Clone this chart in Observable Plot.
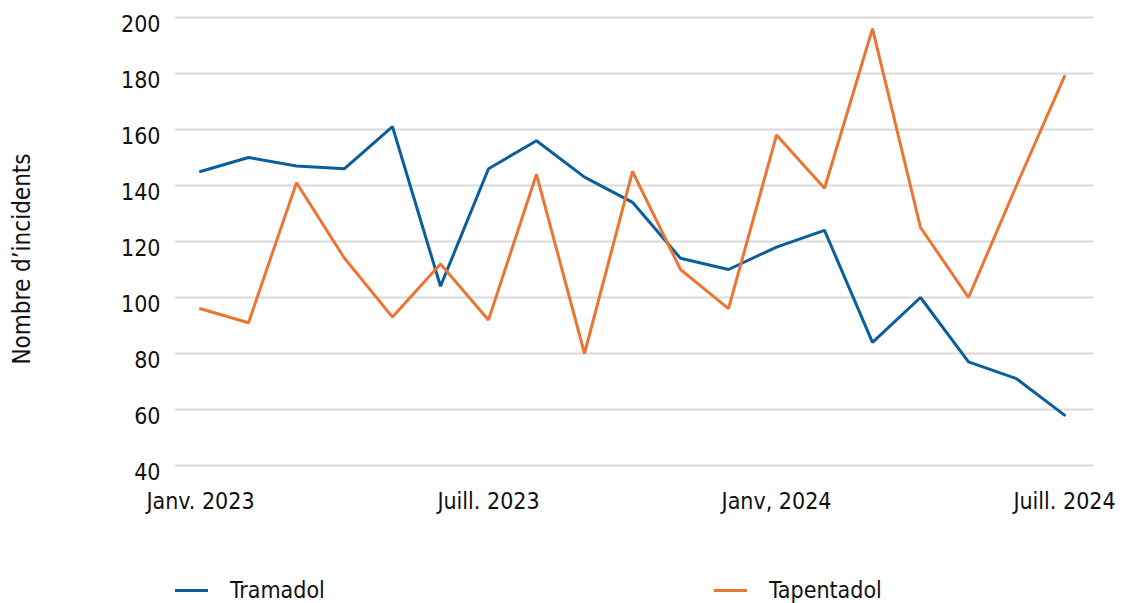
<!DOCTYPE html>
<html>
<head>
<meta charset="utf-8">
<script src="https://cdn.jsdelivr.net/npm/d3@7"></script>
<script src="https://cdn.jsdelivr.net/npm/@observablehq/plot@0.6"></script>
<style>
  body { margin: 0; background: #fff; font-family: "Liberation Sans Narrow", "DejaVu Sans Condensed", sans-serif; }
  #wrap { position: relative; width: 1127px; height: 603px; }
  .leg { position: absolute; top: 577px; display: flex; align-items: center; font-size: 23px; color: #111; }
  .sw { width: 33px; height: 3px; margin-right: 22px; }
  #ylab { position: absolute; left: 22px; top: 259px; transform: translate(-50%, -50%) rotate(-90deg); white-space: nowrap; font-size: 24px; color: #111; }
</style>
</head>
<body>
<div id="wrap"></div>
<script>
const months = ["2023-01","2023-02","2023-03","2023-04","2023-05","2023-06","2023-07","2023-08","2023-09","2023-10","2023-11","2023-12","2024-01","2024-02","2024-03","2024-04","2024-05","2024-06","2024-07"];
const tramadol = [145,150,147,146,161,104,146,156,143,134,114,110,118,124,84,100,77,71,58];
const tapentadol = [96,91,141,114,93,112,92,144,80,145,110,96,158,139,196,125,100,140,179];
const seriesNames = ["Tramadol","Tapentadol"];
const seriesColors = ["#0a5e9c","#eb7533"];
const tickMonths = ["2023-01","2023-07","2024-01","2024-07"];
const tickLabels = ["Janv. 2023","Juill. 2023","Janv, 2024","Juill. 2024"];
const yTicks = [40,60,80,100,120,140,160,180,200];
const yLabel = "Nombre d’incidents";

const data = [];
months.forEach((m, i) => {
  data.push({month: m, value: tramadol[i], series: seriesNames[0]});
  data.push({month: m, value: tapentadol[i], series: seriesNames[1]});
});

const chart = Plot.plot({
  width: 1127,
  height: 540,
  marginTop: 17,
  marginBottom: 75,
  marginLeft: 175,
  marginRight: 34,
  style: {fontFamily: '"Liberation Sans Narrow", "DejaVu Sans Condensed", sans-serif', fontSize: "23px", color: "#111"},
  x: {type: "point", domain: months, range: [198, 1066], padding: 0},
  y: {domain: [40, 200]},
  color: {domain: seriesNames, range: seriesColors},
  marks: [
    Plot.ruleY(yTicks, {stroke: "#d9d9d9", strokeWidth: 2}),
    Plot.axisY(yTicks, {tickSize: 0, tickPadding: 15, dy: 7, label: null}),
    Plot.axisX(tickMonths, {tickSize: 0, tickPadding: 27, tickFormat: (d) => tickLabels[tickMonths.indexOf(d)], label: null}),
    Plot.line(data, {x: "month", y: "value", stroke: "series", strokeWidth: 3, strokeLinejoin: "miter"})
  ]
});
const wrap = document.getElementById("wrap");
wrap.appendChild(chart);

const yl = document.createElement("div");
yl.id = "ylab";
yl.textContent = yLabel;
wrap.appendChild(yl);

const legLeft = [175, 714];
seriesNames.forEach((n, i) => {
  const d = document.createElement("div");
  d.className = "leg";
  d.style.left = legLeft[i] + "px";
  d.innerHTML = `<span class="sw" style="background:${seriesColors[i]}"></span><span>${n}</span>`;
  wrap.appendChild(d);
});
</script>
</body>
</html>
